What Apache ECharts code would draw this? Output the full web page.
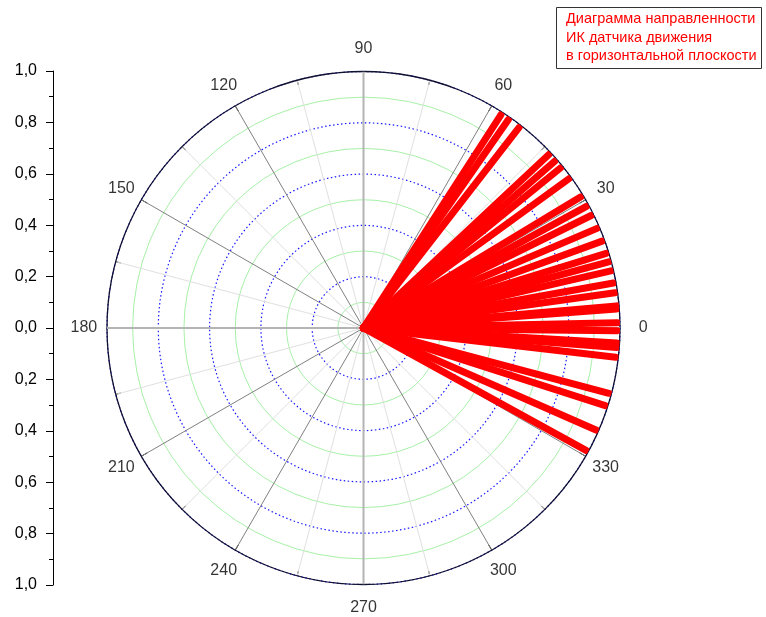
<!DOCTYPE html>
<html>
<head>
<meta charset="utf-8">
<script src="https://cdn.jsdelivr.net/npm/echarts@6/dist/echarts.min.js"></script>
<style>
html,body{margin:0;padding:0;background:#fff;}
#main{width:766px;height:617px;}
</style>
</head>
<body>
<div id="main"></div>
<script>
// ---- data ----
var spokeAngles = [57.2, 55.2, 52.2, 43.1, 41.1, 39.1, 36.0, 31.1, 28.6, 26.3, 23.1, 20.0, 17.1, 15.1, 13.0, 10.2, 8.0, 5.0, 4.3, 1.2, -0.6, -3.4, -4.4, -6.6, -14.9, -17.8, -23.7, -28.8];
var spokeLengths = [0.99, 0.99, 0.99, 0.99, 0.99, 0.99, 0.99, 0.99, 0.99, 0.99, 0.99, 0.99, 0.99, 0.99, 0.99, 0.99, 0.99, 0.99, 0.99, 0.99, 0.99, 0.99, 0.99, 0.99, 0.99, 0.99, 0.99, 0.99];
var angleTicks = [0, 30, 60, 90, 120, 150, 180, 210, 240, 270, 300, 330];
var radiusTicks = [-1, -0.8, -0.6, -0.4, -0.2, 0, 0.2, 0.4, 0.6, 0.8, 1];
var titleLines = ['Диаграмма направленности', 'ИК датчика движения', 'в горизонтальной плоскости'];

// ---- style constants ----
var LABEL_R = 1.09;
var FONT = 'Liberation Sans, Arial, sans-serif';

var chart = echarts.init(document.getElementById('main'), null, {renderer: 'canvas'});

var series = [];
// main cross axes (0-180, 90-270)
series.push({
  type: 'line', coordinateSystem: 'polar', symbol: 'none', silent: true, z: 1,
  data: [[1, 0], [1, 180]],
  lineStyle: {color: '#b4b4b4', width: 2}
});
series.push({
  type: 'line', coordinateSystem: 'polar', symbol: 'none', silent: true, z: 1,
  data: [[1, 90], [1, 270]],
  lineStyle: {color: '#b4b4b4', width: 2}
});
// red spokes
spokeAngles.forEach(function (a, i) {
  series.push({
    type: 'line', coordinateSystem: 'polar', symbol: 'none', silent: true, z: 5,
    data: [[0, a], [spokeLengths[i], a]],
    lineStyle: {color: '#ff0000', width: 7, cap: 'round'}
  });
});
// angle labels
series.push({
  type: 'scatter', coordinateSystem: 'polar', symbolSize: 0, silent: true, clip: false, z: 6,
  data: angleTicks.map(function (a) { return [LABEL_R, a]; }),
  label: {
    show: true, position: 'inside', color: '#000', fontSize: 16, fontFamily: FONT,
    formatter: function (p) { return String(p.value[1]); }
  }
});

var option = {
  animation: false,
  backgroundColor: '#fff',
  title: {
    text: titleLines.join('\n'),
    left: 556, top: 7,
    padding: [3, 5, 3, 10],
    borderColor: '#333', borderWidth: 1,
    textStyle: {color: '#ff0000', fontSize: 14.5, fontWeight: 'normal', fontFamily: FONT, lineHeight: 18.5}
  },
  polar: {center: [363.5, 328], radius: 256.5},
  angleAxis: {
    type: 'value', min: 0, max: 360, interval: 30, startAngle: 0, clockwise: false,
    axisLine: {show: true, lineStyle: {color: '#101030', width: 1.3}},
    axisTick: {show: true, inside: true, length: 7, lineStyle: {color: '#000', width: 1}},
    minorTick: {show: true, splitNumber: 2, length: 5, lineStyle: {color: '#000', width: 1}},
    axisLabel: {show: false},
    splitLine: {show: true, lineStyle: {color: '#808080', width: 1}},
    minorSplitLine: {show: true, lineStyle: {color: '#e0e0e0', width: 1}}
  },
  radiusAxis: {
    type: 'value', min: 0, max: 1, interval: 0.2,
    axisLine: {show: false}, axisTick: {show: false}, axisLabel: {show: false},
    minorTick: {show: false, splitNumber: 2},
    splitLine: {show: true, lineStyle: {color: '#1a1aff', width: 1.2, type: [1.5, 2.5]}},
    minorSplitLine: {show: true, lineStyle: {color: '#a8f0a8', width: 1}}
  },
  grid: {left: 53, top: 71, width: 10, height: 514},
  xAxis: {type: 'value', show: false, min: 0, max: 1},
  yAxis: {
    type: 'value', min: radiusTicks[0], max: radiusTicks[radiusTicks.length - 1], interval: 0.2,
    axisLine: {show: true, lineStyle: {color: '#000', width: 1}},
    axisTick: {show: true, inside: false, length: 7, lineStyle: {color: '#000'}},
    minorTick: {show: true, splitNumber: 2, length: 4, lineStyle: {color: '#000'}},
    splitLine: {show: false},
    axisLabel: {
      color: '#000', fontSize: 16, fontFamily: FONT, margin: 16,
      formatter: function (v) { return Math.abs(v).toFixed(1).replace('.', ','); }
    }
  },
  series: series
};
chart.setOption(option);
</script>
</body>
</html>
